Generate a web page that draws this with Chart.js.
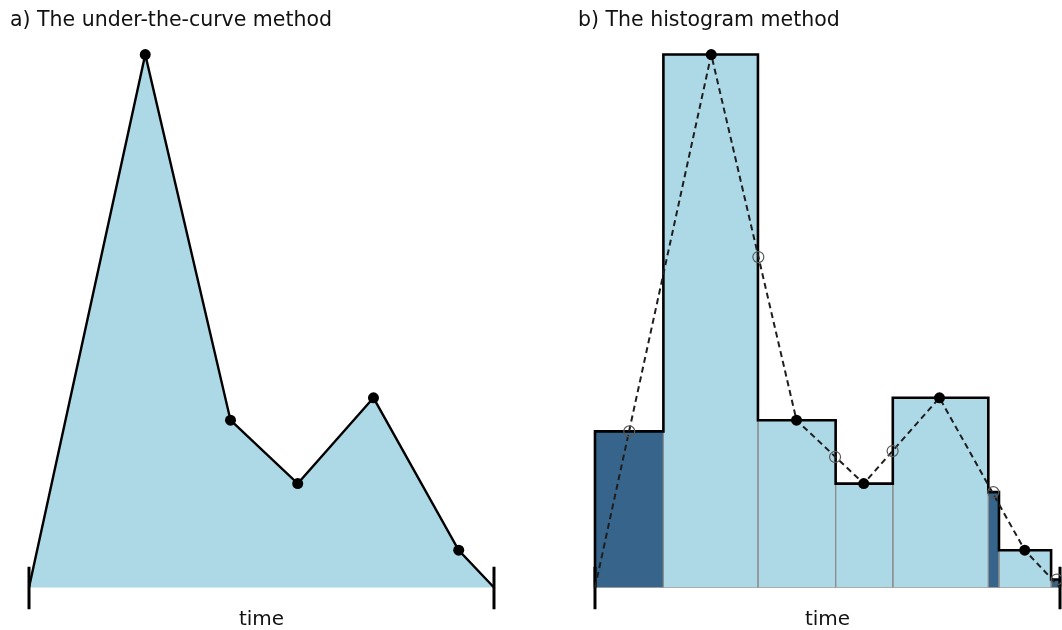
<!DOCTYPE html>
<html>
<head>
<meta charset="utf-8">
<script src="https://cdn.jsdelivr.net/npm/chart.js@4.4.1/dist/chart.umd.min.js"></script>
<style>
  html, body { margin: 0; padding: 0; background: #fff; overflow: hidden; width: 1062px; height: 630px; }
  #wrap { position: relative; width: 1062px; height: 630px; overflow: hidden; }
  .panel { position: absolute; top: 0; height: 630px; }
  #pa { left: 0; width: 523px; }
  #pb { left: 568px; width: 519px; }
</style>
</head>
<body>
<div id="wrap">
  <div class="panel" id="pa"><canvas id="ca" width="523" height="630"></canvas></div>
  <div class="panel" id="pb"><canvas id="cb" width="519" height="630"></canvas></div>
</div>
<script>
// Observation times and measured values
const startTime = 0;
const endTime = 24;
const sampleTimes = [6.0, 10.4, 13.87, 17.78, 22.18];
const sampleValues = [100, 31.4, 19.5, 35.6, 7.0];

// Points read on the connecting line (open circles)
const midTimes = [1.77, 8.43, 12.39, 15.36, 20.56, 23.83];
const midValues = [29.3, 62.0, 24.5, 25.6, 17.9, 1.5];

// Histogram bins: edges, heights and which bins are shaded dark
const binEdges = [0, 3.53, 8.41, 12.42, 15.37, 20.30, 20.85, 23.54, 24];
const binHeights = [29.3, 100, 31.4, 19.5, 35.6, 17.9, 7.0, 1.5];
const binDark = [true, false, false, false, false, true, false, true];

// Axis end marks (extend above and below the baseline)
const endMarkTop = 3.9;
const endMarkBottom = -4.09;

const titleA = 'a) The under-the-curve method';
const titleB = 'b) The histogram method';
const axisLabel = 'time';

const LIGHT = '#ADD8E6';
const DARK = '#36648B';
const INK = '#111111';
const FONT = 'DejaVu Sans';

// Polyline from time zero through every observation back to zero
const curve = [{ x: startTime, y: 0 }]
  .concat(sampleTimes.map((t, i) => ({ x: t, y: sampleValues[i] })))
  .concat([{ x: endTime, y: 0 }]);

function endMarks(order) {
  return [startTime, endTime].map(t => ({
    type: 'line',
    data: [{ x: t, y: endMarkTop }, { x: t, y: endMarkBottom }],
    borderColor: '#000',
    borderWidth: 3,
    pointRadius: 0,
    fill: false,
    order: order
  }));
}

function baseOptions(title, xMin, xMax) {
  return {
    responsive: false,
    animation: false,
    events: [],
    layout: { padding: { left: 10, right: 10, top: 0, bottom: 0 } },
    plugins: {
      legend: { display: false },
      tooltip: { enabled: false },
      title: {
        display: true,
        text: title,
        align: 'start',
        color: INK,
        font: { family: FONT, size: 20.5, weight: 'normal', lineHeight: 1.2 },
        padding: { top: 8, bottom: 8 }
      }
    },
    scales: {
      x: {
        type: 'linear',
        min: xMin,
        max: xMax,
        grid: { display: false, drawTicks: false },
        border: { display: false },
        ticks: { display: false },
        title: {
          display: true,
          text: axisLabel,
          color: INK,
          font: { family: FONT, size: 20, weight: 'normal', lineHeight: 1 },
          padding: 0
        }
      },
      y: {
        type: 'linear',
        min: -4.217,
        max: 102.62,
        display: false
      }
    }
  };
}

// a) area under the connected observations
new Chart(document.getElementById('ca'), {
  type: 'line',
  data: {
    datasets: [
      {
        data: curve,
        fill: 'origin',
        backgroundColor: LIGHT,
        borderColor: '#000',
        borderWidth: 2.4,
        tension: 0,
        borderJoinStyle: 'miter',
        pointRadius: curve.map((p, i) => (i === 0 || i === curve.length - 1) ? 0 : 5.5),
        pointBackgroundColor: '#000',
        pointBorderWidth: 0,
        order: 2
      },
      ...endMarks(1)
    ]
  },
  options: baseOptions(titleA, -0.981, 24.981)
});

// b) histogram bins, outline, dashed connecting line and points
const binSets = binHeights.map((h, i) => ({
  data: [
    { x: binEdges[i], y: 0 },
    { x: binEdges[i], y: h },
    { x: binEdges[i + 1], y: h },
    { x: binEdges[i + 1], y: 0 }
  ],
  fill: 'origin',
  backgroundColor: binDark[i] ? DARK : LIGHT,
  borderColor: 'rgba(140,140,140,0.75)',
  borderWidth: 1,
  pointRadius: 0,
  tension: 0,
  order: 20
}));

const outline = [{ x: binEdges[0], y: 0 }];
binHeights.forEach((h, i) => {
  outline.push({ x: binEdges[i], y: h });
  outline.push({ x: binEdges[i + 1], y: h });
});
outline.push({ x: binEdges[binEdges.length - 1], y: 0 });

new Chart(document.getElementById('cb'), {
  type: 'line',
  data: {
    datasets: [
      {
        data: sampleTimes.map((t, i) => ({ x: t, y: sampleValues[i] })),
        showLine: false,
        pointRadius: 5.5,
        pointBackgroundColor: '#000',
        pointBorderWidth: 0,
        order: 0
      },
      {
        data: midTimes.map((t, i) => ({ x: t, y: midValues[i] })),
        showLine: false,
        pointRadius: 5.5,
        pointBackgroundColor: 'rgba(0,0,0,0)',
        pointBorderColor: '#5a5a5a',
        pointBorderWidth: 1.2,
        order: 1
      },
      {
        data: curve,
        fill: false,
        borderColor: '#1e1e1e',
        borderWidth: 2,
        borderDash: [6, 4],
        pointRadius: 0,
        tension: 0,
        order: 2
      },
      ...endMarks(3),
      {
        data: outline,
        fill: false,
        borderColor: '#000',
        borderWidth: 2.6,
        borderJoinStyle: 'miter',
        pointRadius: 0,
        tension: 0,
        order: 5
      },
      {
        data: [{ x: startTime, y: 0 }, { x: endTime, y: 0 }],
        fill: false,
        borderColor: 'rgba(150,150,150,0.7)',
        borderWidth: 1,
        pointRadius: 0,
        order: 6
      },
      ...binSets
    ]
  },
  options: baseOptions(titleB, -0.877, 24.877)
});
</script>
</body>
</html>
